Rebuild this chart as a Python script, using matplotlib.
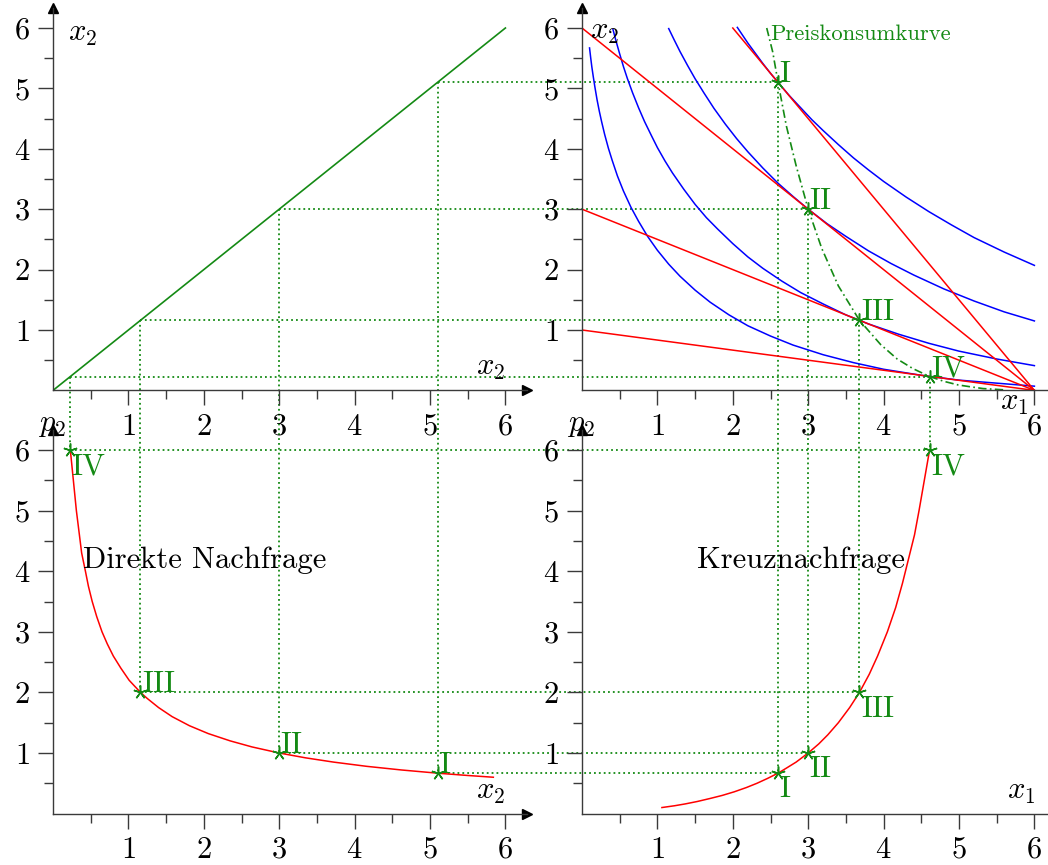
import matplotlib
matplotlib.use("Agg")
import matplotlib.pyplot as plt
from matplotlib.lines import Line2D

plt.rcParams["font.family"] = "cmr10"
plt.rcParams["mathtext.fontset"] = "cm"
plt.rcParams["axes.formatter.use_mathtext"] = True

# optimal bundles for four prices of good 2 (p1 = 1, income = 6)
tags = ["I", "II", "III", "IV"]
p2_opt = [0.67, 1.0, 2.0, 6.0]
x1_opt = [2.60, 3.00, 3.68, 4.61]
x2_opt = [5.10, 3.00, 1.16, 0.23]

# budget lines, all ending at x1 = 6
budget_x1_start = [2.0, 0.0, 0.0, 0.0]
budget_x2_start = [6.0, 6.0, 3.0, 1.0]
budget_x1_end = 6.0

# indifference curves through I..IV
ic_x1 = [
    [2.06, 2.13, 2.2, 2.3, 2.4, 2.5, 2.6, 2.75, 2.9, 3.05, 3.2, 3.4, 3.6, 3.8, 4.0, 4.3, 4.6,
     4.9, 5.2, 5.6, 6.0],
    [1.15, 1.22, 1.3, 1.4, 1.5, 1.62, 1.75, 1.9, 2.05, 2.2, 2.4, 2.6, 2.8, 3.0, 3.25, 3.5, 3.8,
     4.1, 4.4, 4.8, 5.2, 5.6, 6.0],
    [0.41, 0.45, 0.5, 0.55, 0.6, 0.67, 0.75, 0.83, 0.92, 1.0, 1.1, 1.2, 1.35, 1.5, 1.65, 1.8,
     2.0, 2.2, 2.4, 2.65, 2.9, 3.2, 3.5, 3.8, 4.2, 4.6, 5.0, 5.5, 6.0],
    [0.1, 0.115, 0.13, 0.15, 0.17, 0.2, 0.23, 0.26, 0.3, 0.35, 0.4, 0.47, 0.55, 0.65, 0.75,
     0.87, 1.0, 1.15, 1.3, 1.5, 1.7, 1.95, 2.2, 2.5, 2.8, 3.2, 3.6, 4.0, 4.5, 5.0, 5.5, 6.0],
]
ic_x2 = [
    [6.01, 5.88, 5.75, 5.58, 5.41, 5.25, 5.10, 4.88, 4.68, 4.48, 4.30, 4.07, 3.85, 3.65, 3.46,
     3.20, 2.96, 2.74, 2.53, 2.29, 2.07],
    [5.99, 5.81, 5.61, 5.38, 5.16, 4.92, 4.67, 4.41, 4.17, 3.95, 3.68, 3.43, 3.21, 3.00, 2.76,
     2.55, 2.31, 2.10, 1.91, 1.68, 1.48, 1.30, 1.15],
    [5.98, 5.79, 5.57, 5.36, 5.17, 4.93, 4.68, 4.45, 4.22, 4.02, 3.80, 3.60, 3.33, 3.08, 2.86,
     2.67, 2.43, 2.21, 2.02, 1.81, 1.62, 1.43, 1.25, 1.10, 0.93, 0.78, 0.65, 0.52, 0.41],
    [5.67, 5.51, 5.36, 5.19, 5.03, 4.81, 4.62, 4.45, 4.24, 4.01, 3.81, 3.55, 3.30, 3.03, 2.80,
     2.55, 2.32, 2.09, 1.89, 1.66, 1.46, 1.25, 1.07, 0.90, 0.75, 0.59, 0.46, 0.35, 0.25, 0.17,
     0.12, 0.07],
]

# price consumption curve
pcc_x1 = [2.45, 2.53, 2.60, 2.71, 2.84, 3.00, 3.18, 3.40, 3.68, 3.96, 4.18, 4.39, 4.61,
          4.80, 4.99, 5.15, 5.32, 5.46, 5.59]
pcc_x2 = [6.00, 5.60, 5.10, 4.38, 3.72, 3.00, 2.35, 1.73, 1.16, 0.76, 0.52, 0.36, 0.23,
          0.15, 0.09, 0.06, 0.03, 0.02, 0.01]

# direct demand x2(p2)
dd_p2 = [0.6, 0.63, 0.667, 0.72, 0.78, 0.85, 0.92, 1.0, 1.1, 1.2, 1.32, 1.45, 1.6, 1.75, 1.9,
         2.0, 2.2, 2.4, 2.6, 2.8, 3.0, 3.25, 3.5, 3.75, 4.0, 4.3, 4.6, 5.0, 5.5, 6.0]
dd_x2 = [5.84, 5.49, 5.10, 4.62, 4.16, 3.72, 3.35, 3.00, 2.64, 2.35, 2.06, 1.81, 1.58, 1.40,
         1.25, 1.16, 1.01, 0.90, 0.80, 0.72, 0.65, 0.58, 0.52, 0.47, 0.43, 0.38, 0.35, 0.31,
         0.27, 0.23]

# cross demand x1(p2)
cd_p2 = [0.1, 0.13, 0.16, 0.2, 0.25, 0.3, 0.36, 0.43, 0.5, 0.58, 0.667, 0.75, 0.85, 1.0, 1.15,
         1.3, 1.5, 1.75, 2.0, 2.3, 2.6, 3.0, 3.4, 3.8, 4.2, 4.6, 5.0, 5.5, 6.0]
cd_x1 = [1.06, 1.23, 1.37, 1.53, 1.70, 1.86, 2.02, 2.18, 2.32, 2.46, 2.60, 2.71, 2.84, 3.00,
         3.14, 3.26, 3.40, 3.55, 3.68, 3.81, 3.92, 4.05, 4.16, 4.25, 4.33, 4.41, 4.47, 4.54,
         4.61]

ticks = [1, 2, 3, 4, 5, 6]
minor_ticks = [0.5, 1.5, 2.5, 3.5, 4.5, 5.5]

GREEN = "#148a14"
RED = "#ff0000"
BLUE = "#0000ff"
AXIS = "#3a3a3a"
FS = 22

W, H = 1048, 865
XMAX, YMAX = 6.28, 6.33
UX = 75.4


def make_axes(fig, left_px, base_px, uy):
    ax = fig.add_axes([left_px / W, (H - base_px) / H, XMAX * UX / W, YMAX * uy / H])
    ax.set_xlim(0, XMAX)
    ax.set_ylim(0, YMAX)
    ax.set_facecolor("none")
    for side in ("top", "right"):
        ax.spines[side].set_visible(False)
    for side in ("left", "bottom"):
        ax.spines[side].set_color(AXIS)
        ax.spines[side].set_linewidth(1.0)
    ax.plot(1, 0, ">", color="black", ms=7, transform=ax.get_yaxis_transform(), clip_on=False)
    ax.plot(0, 1, "^", color="black", ms=7, transform=ax.get_xaxis_transform(), clip_on=False)
    ax.set_xticks(ticks)
    ax.set_yticks(ticks)
    ax.set_xticks(minor_ticks, minor=True)
    ax.set_yticks(minor_ticks, minor=True)
    ax.tick_params(which="major", direction="out", length=10.5, width=1.0, color=AXIS,
                   labelsize=FS, pad=6)
    ax.tick_params(which="minor", direction="out", length=6.8, width=1.0, color=AXIS)
    return ax


def mark(ax, xs, ys):
    ax.plot(xs, ys, ls="none", marker=(5, 2, 0), ms=10, mew=1.1, color=GREEN, zorder=5)


def tag(ax, x, y, text, below=False):
    ax.annotate(text, (x, y), xytext=(1, -2 if below else 0), textcoords="offset points",
                ha="left", va="top" if below else "baseline", color=GREEN, fontsize=FS,
                zorder=6)


def link(fig, ax_a, xy_a, ax_b, xy_b):
    # dotted guide from a point in one panel to a point in another
    to_fig = fig.transFigure.inverted()
    pa = to_fig.transform(ax_a.transData.transform(xy_a))
    pb = to_fig.transform(ax_b.transData.transform(xy_b))
    fig.add_artist(Line2D([pa[0], pb[0]], [pa[1], pb[1]], transform=fig.transFigure,
                          color=GREEN, lw=1.3, ls=(0, (1, 1.7)), zorder=-1))


fig = plt.figure(figsize=(W / 100, H / 100), dpi=100)
ax_tl = make_axes(fig, 53, 390.4, 60.4)
ax_tr = make_axes(fig, 582, 390.4, 60.4)
ax_bl = make_axes(fig, 53, 813.6, 60.6)
ax_br = make_axes(fig, 582, 813.6, 60.6)

# 45 degree mirror line
ax_tl.plot([0, 6], [0, 6], color=GREEN, lw=1.2)
ax_tl.text(0.2, 5.78, "$x_2$", fontsize=FS, va="baseline")
ax_tl.text(5.61, 0.26, "$x_2$", fontsize=FS, va="baseline")

# household optimum
for xs, ys in zip(ic_x1, ic_x2):
    ax_tr.plot(xs, ys, color=BLUE, lw=1.1)
for xs, ys in zip(budget_x1_start, budget_x2_start):
    ax_tr.plot([xs, budget_x1_end], [ys, 0], color=RED, lw=1.1)
ax_tr.plot(pcc_x1, pcc_x2, color=GREEN, lw=1.2, ls=(0, (5, 2, 1, 2)))
mark(ax_tr, x1_opt, x2_opt)
for t, x, y in zip(tags, x1_opt, x2_opt):
    tag(ax_tr, x, y, t)
ax_tr.text(2.49, 5.80, "Preiskonsumkurve", fontsize=16.3, color=GREEN, va="baseline")
ax_tr.text(0.1, 5.82, "$x_2$", fontsize=FS, va="baseline")
ax_tr.text(5.54, -0.32, "$x_1$", fontsize=FS, va="baseline")

# direct demand for good 2
ax_bl.plot(dd_x2, dd_p2, color=RED, lw=1.1)
mark(ax_bl, x2_opt, p2_opt)
for t, x, y in zip(tags, x2_opt, p2_opt):
    tag(ax_bl, x, y, t, below=(t == "IV"))
ax_bl.text(0.40, 4.05, "Direkte Nachfrage", fontsize=FS, va="baseline")
ax_bl.text(-0.2, 6.32, "$p_2$", fontsize=FS, va="baseline")
ax_bl.text(5.61, 0.24, "$x_2$", fontsize=FS, va="baseline")

# cross demand for good 1
ax_br.plot(cd_x1, cd_p2, color=RED, lw=1.1)
mark(ax_br, x1_opt, p2_opt)
for t, x, y in zip(tags, x1_opt, p2_opt):
    tag(ax_br, x, y, t, below=True)
ax_br.text(1.52, 4.05, "Kreuznachfrage", fontsize=FS, va="baseline")
ax_br.text(-0.2, 6.32, "$p_2$", fontsize=FS, va="baseline")
ax_br.text(5.64, 0.24, "$x_1$", fontsize=FS, va="baseline")

# dotted guide lines between the four panels
for x1, x2, p2 in zip(x1_opt, x2_opt, p2_opt):
    link(fig, ax_tl, (x2, x2), ax_tr, (x1, x2))
    link(fig, ax_tl, (x2, x2), ax_bl, (x2, p2))
    link(fig, ax_tr, (x1, x2), ax_br, (x1, p2))
    link(fig, ax_bl, (x2, p2), ax_br, (x1, p2))

fig.savefig("out.png", dpi=100)
